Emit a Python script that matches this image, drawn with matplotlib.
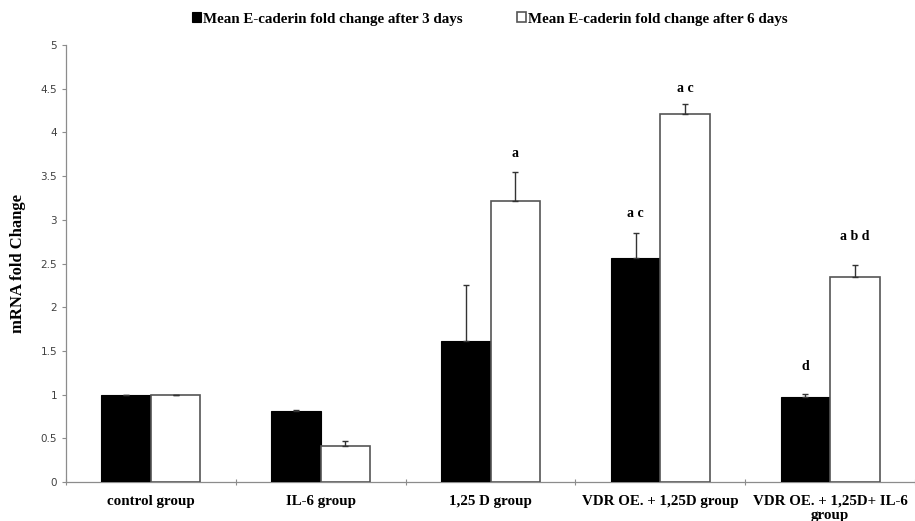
import matplotlib.pyplot as plt
import numpy as np

groups = ['control group', 'IL-6 group', '1,25 D group', 'VDR OE. + 1,25D group',
          'VDR OE. + 1,25D+ IL-6\ngroup']
day3 = [1.0, 0.81, 1.61, 2.56, 0.975]
day3_err = [0.0, 0.01, 0.64, 0.29, 0.03]
day6 = [1.0, 0.41, 3.21, 4.21, 2.35]
day6_err = [0.0, 0.06, 0.34, 0.12, 0.13]
# significance letters: (group index, series, label, y position)
marks = [(2, 6, 'a', 3.76), (3, 3, 'a c', 3.07), (3, 6, 'a c', 4.5),
         (4, 3, 'd', 1.32), (4, 6, 'a b d', 2.81)]

serif = 'Liberation Serif'
grey = '#8c8c8c'

fig = plt.figure(figsize=(9.15, 5.21), dpi=100)
ax = fig.add_axes([66/915, 39/521, 849/915, 437/521])

x = np.arange(len(groups))
w = 0.292
ax.bar(x - w/2, day3, w, color='black', edgecolor='black', linewidth=0.8,
       yerr=[np.zeros(5), day3_err], error_kw=dict(ecolor='#333333', elinewidth=1, capsize=2.5, capthick=1),
       label='Mean E-caderin fold change after 3 days', zorder=3)
ax.bar(x + w/2, day6, w, color='white', edgecolor='#555555', linewidth=1.2,
       yerr=[np.zeros(5), day6_err], error_kw=dict(ecolor='#333333', elinewidth=1, capsize=2.5, capthick=1),
       label='Mean E-caderin fold change after 6 days', zorder=3)

for gi, s, txt, yv in marks:
    xx = gi - w/2 if s == 3 else gi + w/2
    ax.text(xx, yv, txt, ha='center', va='center', fontfamily=serif,
            fontweight='bold', fontsize=10)

ax.set_xlim(-0.5, 4.465)
ax.set_ylim(0, 5)
ax.set_yticks(np.arange(0, 5.01, 0.5))
ax.set_yticklabels(['0', '0.5', '1', '1.5', '2', '2.5', '3', '3.5', '4', '4.5', '5'])
ax.tick_params(axis='y', colors=grey, labelcolor='#404040', labelsize=7.5, length=3, width=0.8)

ax.set_xticks(np.arange(-0.5, 4.6, 1))
ax.set_xticklabels([])
ax.tick_params(axis='x', which='major', colors=grey, length=4, width=0.8, direction='inout')
ax.set_xticks(x, minor=True)
ax.set_xticklabels(groups, minor=True, fontfamily=serif, fontweight='bold', fontsize=10.8,
                   linespacing=1.15)
ax.tick_params(axis='x', which='minor', length=0, pad=9)

for side in ['top', 'right']:
    ax.spines[side].set_visible(False)
for side in ['left', 'bottom']:
    ax.spines[side].set_color(grey)
    ax.spines[side].set_linewidth(0.9)

ax.set_ylabel('mRNA fold Change', fontfamily=serif, fontweight='bold', fontsize=12, labelpad=10)

leg = fig.legend(loc='center', bbox_to_anchor=(490/915, 1 - 19/521), ncol=2, frameon=False,
                 prop=dict(family=serif, weight='bold', size=10.8), handlelength=0.6, handleheight=0.6,
                 handletextpad=0.15, columnspacing=3.6)

fig.savefig('out.png', dpi=100)
